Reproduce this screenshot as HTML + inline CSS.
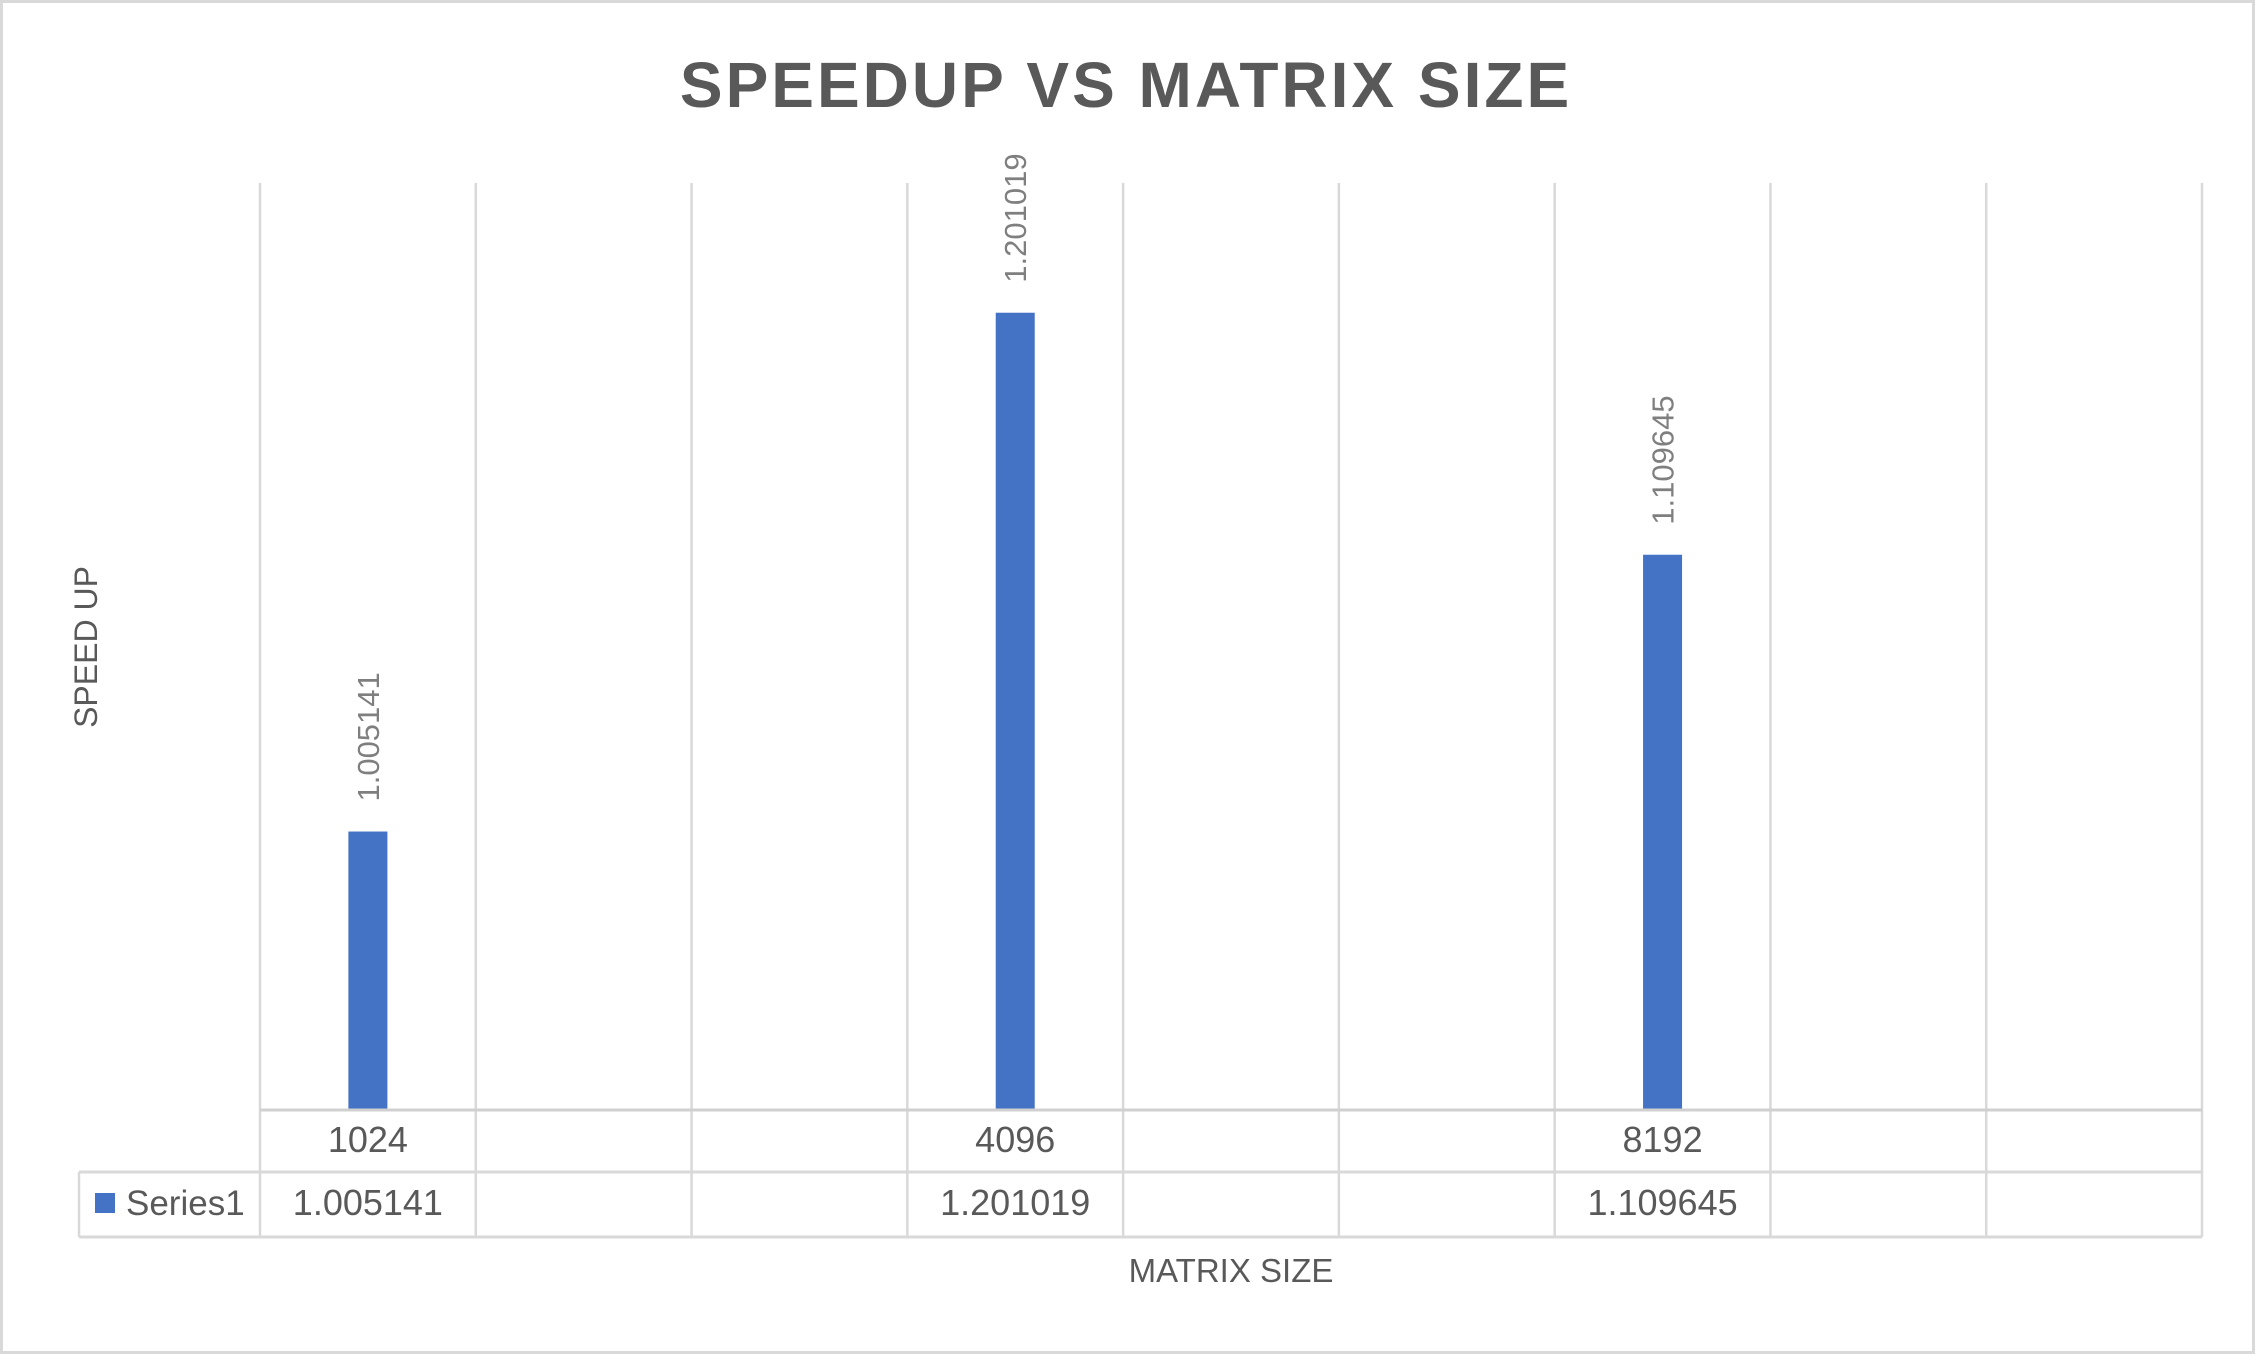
<!DOCTYPE html>
<html><head><meta charset="utf-8"><style>
html,body{margin:0;padding:0;background:#fff}
svg{display:block;font-family:"Liberation Sans",sans-serif}
</style></head><body>
<svg id="chart" width="2255" height="1354" viewBox="0 0 2255 1354">
<rect x="1.5" y="1.5" width="2252" height="1351" fill="#fff" stroke="#d9d9d9" stroke-width="3"/>
<text x="1126" y="107" text-anchor="middle" font-size="64" font-weight="bold" letter-spacing="3" fill="#595959">SPEEDUP VS MATRIX SIZE</text>
<g id="grid"></g>
<g id="table"></g>
<g id="bars"></g>
<text transform="translate(97,647) rotate(-90)" text-anchor="middle" font-size="32" fill="#595959">SPEED UP</text>
<text x="1231" y="1282" text-anchor="middle" font-size="33" fill="#595959">MATRIX SIZE</text>
</svg>
<script>
const categories = ["1024", "", "", "4096", "", "", "8192", "", ""];
const values = [1.005141, null, null, 1.201019, null, null, 1.109645, null, null];
const labels = ["1.005141", "", "", "1.201019", "", "", "1.109645", "", ""];
const seriesName = "Series1";
const yMin = 0.9, yMax = 1.25;

const NS = "http://www.w3.org/2000/svg";
const plotLeft = 260, plotRight = 2202, plotTop = 183, plotBottom = 1110;
const colW = (plotRight - plotLeft) / categories.length;
function xPos(i){ return plotLeft + colW * (i + 0.5); }
function yPos(v){ return plotBottom - (v - yMin) / (yMax - yMin) * (plotBottom - plotTop); }
function mk(tag, attrs, parent){ const e = document.createElementNS(NS, tag); for (const k in attrs) e.setAttribute(k, attrs[k]); parent.appendChild(e); return e; }

const grid = document.getElementById("grid");
const table = document.getElementById("table");
const bars = document.getElementById("bars");
const row1 = 1172, row2 = 1237, tLeft = 79;

for (let i = 0; i <= categories.length; i++) {
  const gx = plotLeft + colW * i;
  const l = mk("line", {x1: gx, x2: gx, y1: plotTop, y2: row2, stroke: "#d9d9d9", "stroke-width": 2.5}, grid);
  
  
}
const hl = [[plotLeft, plotBottom, plotRight, "#d0d0d0", 3], [tLeft, row1, plotRight, "#d9d9d9", 3], [tLeft, row2, plotRight, "#d9d9d9", 3]];
hl.forEach(h => {
  const l = mk("line", {x1: h[0], x2: h[2], y1: h[1], y2: h[1], stroke: h[3], "stroke-width": h[4]}, table);
  
  
});
const vl = mk("line", {x1: tLeft, x2: tLeft, y1: row1, y2: row2, stroke: "#d9d9d9", "stroke-width": 2.5}, table);



const key = mk("rect", {x: 95, y: 1193, width: 20, height: 20, fill: "#4472C4"}, table);


const sn = mk("text", {x: 126, y: 1215, "font-size": 35, fill: "#595959"}, table);
sn.textContent = seriesName;



categories.forEach((c, i) => {
  if (c) {
    const t = mk("text", {x: xPos(i), y: 1152, "text-anchor": "middle", "font-size": 36, fill: "#595959"}, table);
    t.textContent = c;
    
    
  }
  if (values[i] != null) {
    const t2 = mk("text", {x: xPos(i), y: 1215, "text-anchor": "middle", "font-size": 36, fill: "#595959"}, table);
    t2.textContent = labels[i];
    
    
    const bw = 39, yt = yPos(values[i]);
    const b = mk("rect", {x: xPos(i) - bw / 2, y: yt, width: bw, height: plotBottom - yt - 1.5, fill: "#4472C4"}, bars);
    
    
    const dl = mk("text", {transform: `translate(${xPos(i) + 11},${yt - 30}) rotate(-90)`, "font-size": 31, fill: "#7f7f7f"}, bars);
    dl.textContent = labels[i];
    
    
  }
});
</script>
</body></html>
